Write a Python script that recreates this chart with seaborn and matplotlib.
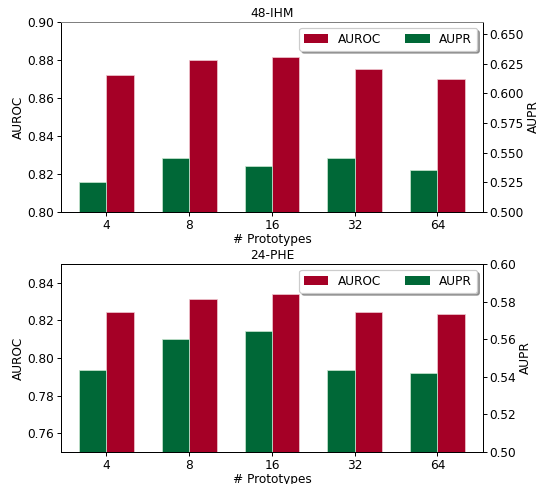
import numpy as np
import pandas as pd
import matplotlib
matplotlib.use("Agg")
import matplotlib.pyplot as plt
import seaborn as sns
from matplotlib.patches import Patch

# data
prototypes = ["4", "8", "16", "32", "64"]

ihm_auroc = [0.8723, 0.8802, 0.8817, 0.8751, 0.8702]
ihm_aupr = [0.5251, 0.5451, 0.5389, 0.5457, 0.5350]

phe_auroc = [0.8245, 0.8314, 0.8338, 0.8245, 0.8233]
phe_aupr = [0.5436, 0.5599, 0.5643, 0.5434, 0.5422]

RED = "#a50026"
GREEN = "#006837"
palette = {"AUROC": RED, "AUPR": GREEN}
hue_order = ["AUPR", "AUROC"]

plt.rcParams["font.family"] = ["DejaVu Sans"]
plt.rcParams["xtick.major.pad"] = 2
plt.rcParams["ytick.major.pad"] = 2

DPI = 87
fig = plt.figure(figsize=(544 / DPI, 484 / DPI), dpi=DPI)
ax_top = fig.add_axes([0.1121, 0.562, 0.7757, 0.3926])
ax_bot = fig.add_axes([0.1121, 0.066, 0.7757, 0.3885])


def make_df(values, metric):
    # both hue levels present so seaborn dodges; the other metric is NaN
    nan = [np.nan] * len(prototypes)
    other = "AUPR" if metric == "AUROC" else "AUROC"
    return pd.DataFrame({
        "proto": prototypes * 2,
        "value": list(values) + nan,
        "metric": [metric] * len(prototypes) + [other] * len(prototypes),
    })


def draw(ax, title, auroc, aupr, ylim_l, ylim_r, yticks_l, yticks_r, fmt_r):
    sns.barplot(data=make_df(auroc, "AUROC"), x="proto", y="value", hue="metric",
                hue_order=hue_order, palette=palette, order=prototypes, width=0.66,
                ax=ax, legend=False, edgecolor="#f0c8d0", linewidth=0.6, saturation=1)
    ax2 = ax.twinx()
    sns.barplot(data=make_df(aupr, "AUPR"), x="proto", y="value", hue="metric",
                hue_order=hue_order, palette=palette, order=prototypes, width=0.66,
                ax=ax2, legend=False, edgecolor="#c8e6d0", linewidth=0.6, saturation=1)

    ax.set_ylim(*ylim_l)
    ax2.set_ylim(*ylim_r)
    ax.set_yticks(yticks_l)
    ax2.set_yticks(yticks_r)
    ax.set_yticklabels([f"{t:.2f}" for t in yticks_l])
    ax2.set_yticklabels([fmt_r.format(t) for t in yticks_r])
    ax.set_xlim(-0.55, 4.55)
    ax.set_xlabel("# Prototypes", labelpad=1)
    ax.set_ylabel("AUROC", labelpad=2)
    ax2.set_ylabel("AUPR", labelpad=2)
    ax.set_title(title, fontsize=10, pad=4)

    handles = [Patch(facecolor=RED, label="AUROC"), Patch(facecolor=GREEN, label="AUPR")]
    ax2.legend(handles=handles, loc="upper right", ncol=2, shadow=True,
               fontsize=10, columnspacing=2.0, handlelength=2.0)
    return ax2


t2 = draw(ax_top, "48-IHM", ihm_auroc, ihm_aupr, (0.80, 0.90), (0.50, 0.66),
          [0.80, 0.82, 0.84, 0.86, 0.88, 0.90],
          [0.500, 0.525, 0.550, 0.575, 0.600, 0.625, 0.650], "{:.3f}")
t2.spines["top"].set_color("grey")
ax_top.spines["top"].set_color("grey")

draw(ax_bot, "24-PHE", phe_auroc, phe_aupr, (0.75, 0.85), (0.50, 0.60),
     [0.76, 0.78, 0.80, 0.82, 0.84],
     [0.50, 0.52, 0.54, 0.56, 0.58, 0.60], "{:.2f}")

fig.savefig("out.png", dpi=DPI)
